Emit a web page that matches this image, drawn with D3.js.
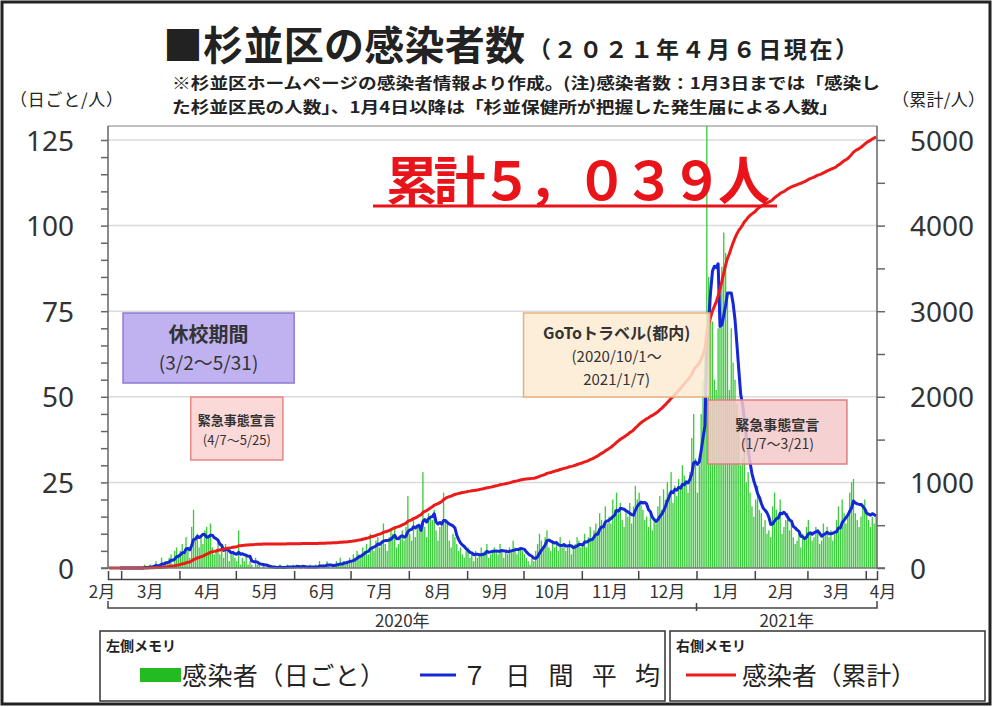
<!DOCTYPE html>
<html>
<head>
<meta charset="UTF-8">
<style>
  body { margin: 0; background: #fff; }
  svg text { font-family: "Noto Sans CJK JP", "Noto Sans", sans-serif; fill: #222; }
  .tick text { font-family: "Noto Sans", sans-serif; font-size: 28px; fill: #333; }
</style>
<title>杉並区の感染者数</title>
</head>
<body>
<svg width="993" height="707"></svg>
<script src="https://d3js.org/d3.v7.min.js"></script>
<script>
// daily new cases, first day = 2020-02-23
const startDay = new Date(2020, 1, 23);
const feb2020 = [0,0,0,0,0,0,0];
const mar2020 = [0,0,0,0,0,0,0,0,0,0, 0,0,1,0,0,1,0, 1,2,0,1,3,1,2, 2,3,4,1,5,6,3];
const apr2020 = [5,7,4,9,6,3,12, 17,8,10,6,9,7,11, 12,9,13,6,4,5,8, 4,6,3,7,5,2,4, 5,3];
const may2020 = [2,11,1,3,2,4,1, 2,1,0,3,1,1,0, 1,0,0,1,0,0,0, 0,0,1,0,0,0,1,0,0,1];
const jun2020 = [0,1,0,0,1,0,0,0,1,0, 0,1,0,2,0,1,0,2,1,0, 1,0,2,1,3,1,2,1,2,3];
const jul2020 = [2,4,3,5,4,3,6, 5,7,4,10,6,5,8, 9,6,8,13,7,5,9, 11,10,12,6,7,9,11, 8,12,21];
const aug2020 = [10,8,14,9,12,13,11, 28,12,9,16,15,14,17, 11,8,12,13,22,14,13, 8,6,10,9,7,5,6, 4,3,5];
const sep2020 = [6,3,4,2,5,3,4, 6,4,5,7,3,4,5, 6,5,4,7,5,3,5, 4,6,5,8,6,4,5, 6,5];
const oct2020 = [4,3,2,1,3,2,5, 7,10,8,6,9,11,6, 5,8,6,7,5,9,6, 7,5,6,8,4,6,7, 9,8,6];
const nov2020 = [7,10,6,9,12,8,11, 13,10,16,14,12,18,13, 15,13,20,17,22,16,19, 14,12,17,15,19,13,18, 24,20];
const dec2020 = [22,19,17,14,15,12,16, 11,14,13,18,21,17,23, 20,25,22,28,19,24,21, 26,23,30,27,25,22,28, 38,45,32];
const jan2021 = [22,30,45,55,62,210,85, 78,72,55,52,70,82,88, 98,92,80,52,70,60,55, 48,40,30,32,38,25,28, 22,18,15];
const feb2021 = [20,24,17,16,12,14,10, 11,9,18,22,17,15,20, 10,12,14,16,11,13,9, 7,8,11,6,10,9,12];
const mar2021 = [14,10,8,9,12,11,7, 8,13,10,12,9,11,8, 10,14,18,12,20,16,13, 15,22,25,26,16,14,12, 15,18,20];
const apr2021 = [17,14,12,15,13,15];

const monthLabels = ["2月","3月","4月","5月","6月","7月","8月","9月","10月","11月","12月","1月","2月","3月","4月"];
const yearLabels = ["2020年", "2021年"];
const leftTicks = [0, 25, 50, 75, 100, 125];
const rightTicks = [0, 1000, 2000, 3000, 4000, 5000];

// annotation periods
const periods = [
  { from: new Date(2020, 2, 2), to: new Date(2020, 5, 1), top: 313, bottom: 383, fill: "#b5a4ef", stroke: "#8b7bd2",
    lines: [["休校期間", 20, "bold", 342], ["(3/2～5/31)", 19, "normal", 370]] },
  { from: new Date(2020, 3, 7), to: new Date(2020, 4, 26), top: 397, bottom: 460, fill: "#fad2d2", stroke: "#e38787",
    lines: [["緊急事態宣言", 13, "bold", 425], ["(4/7～5/25)", 13, "normal", 445]] },
  { from: new Date(2020, 9, 1), to: new Date(2021, 0, 8), top: 313, bottom: 397, fill: "#fdebd4", stroke: "#e6b27f",
    lines: [["GoToトラベル(都内)", 16, "bold", 339], ["(2020/10/1～", 15, "normal", 362], ["2021/1/7)", 15, "normal", 385]] },
  { from: new Date(2021, 0, 7), to: new Date(2021, 2, 22), top: 400, bottom: 464, fill: "#f5c9c9", stroke: "#e07f7f",
    lines: [["緊急事態宣言", 14, "bold", 430], ["(1/7～3/21)", 14, "normal", 449]] }
];

const daily = [].concat(feb2020, mar2020, apr2020, may2020, jun2020, jul2020, aug2020,
  sep2020, oct2020, nov2020, dec2020, jan2021, feb2021, mar2021, apr2021);
const rows = daily.map((v, i) => ({
  date: d3.timeDay.offset(startDay, i),
  value: v,
  avg: i < 6 ? null : d3.mean(daily.slice(i - 6, i + 1))
}));
const cum = d3.cumsum(daily);
rows.forEach((r, i) => r.total = cum[i]);
const endDay = d3.timeDay.offset(startDay, daily.length);

const svg = d3.select("svg");
const plotL = 108, plotR = 877, plotT = 126, plotB = 568;

const x = d3.scaleTime().domain([startDay, endDay]).range([plotL, plotR]);
const yL = d3.scaleLinear().domain([0, 125]).range([plotB, 140]);
const yR = d3.scaleLinear().domain([0, 5000]).range([plotB, 140]);
const dayW = (plotR - plotL) / daily.length;
const cx = d => x(d.date) + dayW / 2;

// outer frame
svg.append("rect").attr("x", 2).attr("y", 2).attr("width", 988).attr("height", 702)
  .attr("fill", "none").attr("stroke", "#222").attr("stroke-width", 3);

// title + notes
svg.append("text").attr("x", 163).attr("y", 60).attr("font-size", 40).attr("font-weight", "bold")
  .attr("textLength", 362).text("■杉並区の感染者数");
svg.append("text").attr("x", 528).attr("y", 58).attr("font-size", 23).attr("font-weight", "bold")
  .attr("textLength", 330).attr("lengthAdjust", "spacing").text("（２０２１年４月６日現在）");
svg.append("text").attr("x", 172).attr("y", 89).attr("font-size", 15.5).attr("font-weight", "bold")
  .attr("textLength", 708).attr("lengthAdjust", "spacingAndGlyphs")
  .text("※杉並区ホームページの感染者情報より作成。(注)感染者数：1月3日までは「感染し");
svg.append("text").attr("x", 172).attr("y", 113).attr("font-size", 15.5).attr("font-weight", "bold")
  .attr("textLength", 666).attr("lengthAdjust", "spacingAndGlyphs")
  .text("た杉並区民の人数」、1月4日以降は「杉並保健所が把握した発生届による人数」");
svg.append("text").attr("x", 10).attr("y", 106).attr("font-size", 17)
  .attr("textLength", 113).text("（日ごと/人）");
svg.append("text").attr("x", 892).attr("y", 106).attr("font-size", 17)
  .attr("textLength", 93).text("（累計/人）");

// grid
svg.append("g").selectAll("line").data(leftTicks.slice(1)).join("line")
  .attr("x1", plotL).attr("x2", plotR).attr("y1", d => yL(d)).attr("y2", d => yL(d))
  .attr("stroke", "#dadada").attr("stroke-width", 1.5);
svg.append("line").attr("x1", plotL).attr("x2", plotR).attr("y1", plotT).attr("y2", plotT)
  .attr("stroke", "#aaa").attr("stroke-width", 1.5);

// bars
svg.append("clipPath").attr("id", "plot").append("rect")
  .attr("x", plotL).attr("y", plotT).attr("width", plotR - plotL).attr("height", plotB - plotT);
svg.append("g").attr("clip-path", "url(#plot)").selectAll("rect").data(rows).join("rect")
  .attr("x", d => x(d.date) + 0.25)
  .attr("width", dayW - 0.55)
  .attr("y", d => yL(d.value))
  .attr("height", d => plotB - yL(d.value))
  .attr("fill", "#3ccb3c");

// 7-day average
svg.append("path").datum(rows)
  .attr("fill", "none").attr("stroke", "#1428d6").attr("stroke-width", 3).attr("stroke-linejoin", "round")
  .attr("d", d3.line().defined(d => d.avg !== null).x(cx).y(d => yL(d.avg)));

// cumulative
svg.append("path").datum(rows)
  .attr("fill", "none").attr("stroke", "#ec1a1a").attr("stroke-width", 3).attr("stroke-linejoin", "round")
  .attr("d", d3.line().x(cx).y(d => yR(d.total)));

// period boxes
const pg = svg.append("g").selectAll("g").data(periods).join("g");
pg.append("rect")
  .attr("x", d => x(d.from)).attr("width", d => x(d.to) - x(d.from))
  .attr("y", d => d.top).attr("height", d => d.bottom - d.top)
  .attr("fill", d => d.fill).attr("fill-opacity", 0.85)
  .attr("stroke", d => d.stroke).attr("stroke-width", 1.5);
pg.each(function (d) {
  const mid = (x(d.from) + x(d.to)) / 2;
  d3.select(this).selectAll("text").data(d.lines).join("text")
    .attr("x", mid).attr("y", l => l[3]).attr("text-anchor", "middle")
    .attr("font-size", l => l[1]).attr("font-weight", l => l[2]).style("fill", "#333")
    .text(l => l[0]);
});

// big total label
const totalText = "累計" + d3.format(",")(cum[cum.length - 1]).replace(/[0-9,]/g, c => String.fromCharCode(c.charCodeAt(0) + 0xFEE0)) + "人";
svg.append("text").attr("x", 386).attr("y", 200).attr("font-size", 52).attr("font-weight", "bold")
  .attr("textLength", 384).attr("lengthAdjust", "spacing")
  .style("fill", "#e8141a").text(totalText);
svg.append("line").attr("x1", 373).attr("x2", 777).attr("y1", 206).attr("y2", 206)
  .attr("stroke", "#e8141a").attr("stroke-width", 3);

// axes
const axL = svg.append("g").attr("transform", `translate(${plotL},0)`)
  .call(d3.axisLeft(yL).tickValues(d3.range(0, 126, 5)).tickSize(7).tickPadding(27)
    .tickFormat(d => d % 25 === 0 ? d : ""));
const axR = svg.append("g").attr("transform", `translate(${plotR},0)`)
  .call(d3.axisRight(yR).tickValues(d3.range(0, 5001, 500)).tickSize(8).tickPadding(25)
    .tickFormat(d => d % 1000 === 0 ? d : ""));
[axL, axR].forEach(a => {
  a.select(".domain").attr("stroke", "#666").attr("stroke-width", 1.5);
  a.selectAll(".tick line").attr("stroke", "#666").attr("stroke-width", 1.5);
  a.selectAll(".tick text").attr("dy", "0.36em");
});
axL.select(".domain").attr("d", `M-7,${plotB}H0V${plotT}`);
axR.select(".domain").attr("d", `M8,${plotB}H0V${plotT}`);

svg.append("line").attr("x1", plotL).attr("x2", plotR).attr("y1", plotB).attr("y2", plotB)
  .attr("stroke", "#777").attr("stroke-width", 1.5);

const monthStarts = d3.timeMonth.range(d3.timeMonth.ceil(startDay), endDay);
const axB = svg.append("g").attr("transform", "translate(0,579)")
  .call(d3.axisTop(x).tickValues(monthStarts).tickSize(8).tickSizeOuter(8).tickFormat(""));
axB.select(".domain").attr("stroke", "#444").attr("stroke-width", 1.5);
axB.selectAll(".tick line").attr("stroke", "#444").attr("stroke-width", 1.5);

// month labels centred on each month segment
const bounds = [startDay].concat(monthStarts, [endDay]);
svg.append("g").selectAll("text").data(monthLabels).join("text")
  .attr("x", (d, i) => {
    if (i === 0) return x(bounds[1]) - 6;
    if (i === monthLabels.length - 1) return x(bounds[i]) + 4;
    return (x(bounds[i]) + x(bounds[i + 1])) / 2;
  })
  .attr("text-anchor", (d, i) => i === 0 ? "end" : i === monthLabels.length - 1 ? "start" : "middle")
  .attr("y", 598).attr("font-size", 17).style("fill", "#333").text(d => d);

// year bracket
const yearSplit = new Date(2021, 0, 1);
svg.append("path").attr("fill", "none").attr("stroke", "#444").attr("stroke-width", 1.5)
  .attr("d", `M${x(startDay)},601V608H${x(endDay)}V601M${x(yearSplit)},603V611`);
svg.append("g").selectAll("text").data(yearLabels).join("text")
  .attr("x", (d, i) => i === 0 ? (x(startDay) + x(yearSplit)) / 2 : (x(yearSplit) + x(endDay)) / 2)
  .attr("y", 627).attr("text-anchor", "middle").attr("font-size", 17).style("fill", "#333").text(d => d);

// legend
const lg = svg.append("g");
lg.append("rect").attr("x", 100).attr("y", 631).attr("width", 565).attr("height", 70)
  .attr("fill", "#fff").attr("stroke", "#333").attr("stroke-width", 1.5);
lg.append("rect").attr("x", 670).attr("y", 631).attr("width", 315).attr("height", 70)
  .attr("fill", "#fff").attr("stroke", "#333").attr("stroke-width", 1.5);
lg.append("text").attr("x", 106).attr("y", 651).attr("font-size", 14).attr("font-weight", "bold").text("左側メモリ");
lg.append("text").attr("x", 676).attr("y", 651).attr("font-size", 14).attr("font-weight", "bold").text("右側メモリ");
lg.append("rect").attr("x", 140).attr("y", 668).attr("width", 41).attr("height", 14).attr("fill", "#22bb22");
lg.append("text").attr("x", 182).attr("y", 685).attr("font-size", 25).attr("textLength", 203).text("感染者（日ごと）");
lg.append("line").attr("x1", 420).attr("x2", 456).attr("y1", 675).attr("y2", 675).attr("stroke", "#1428d6").attr("stroke-width", 3);
lg.append("text").attr("x", 462).attr("y", 685).attr("font-size", 25).attr("textLength", 198)
  .attr("lengthAdjust", "spacing").text("７日間平均");
lg.append("line").attr("x1", 686).attr("x2", 736).attr("y1", 675).attr("y2", 675).attr("stroke", "#ec1a1a").attr("stroke-width", 3);
lg.append("text").attr("x", 742).attr("y", 685).attr("font-size", 25).attr("textLength", 174).text("感染者（累計）");
</script>
</body>
</html>
